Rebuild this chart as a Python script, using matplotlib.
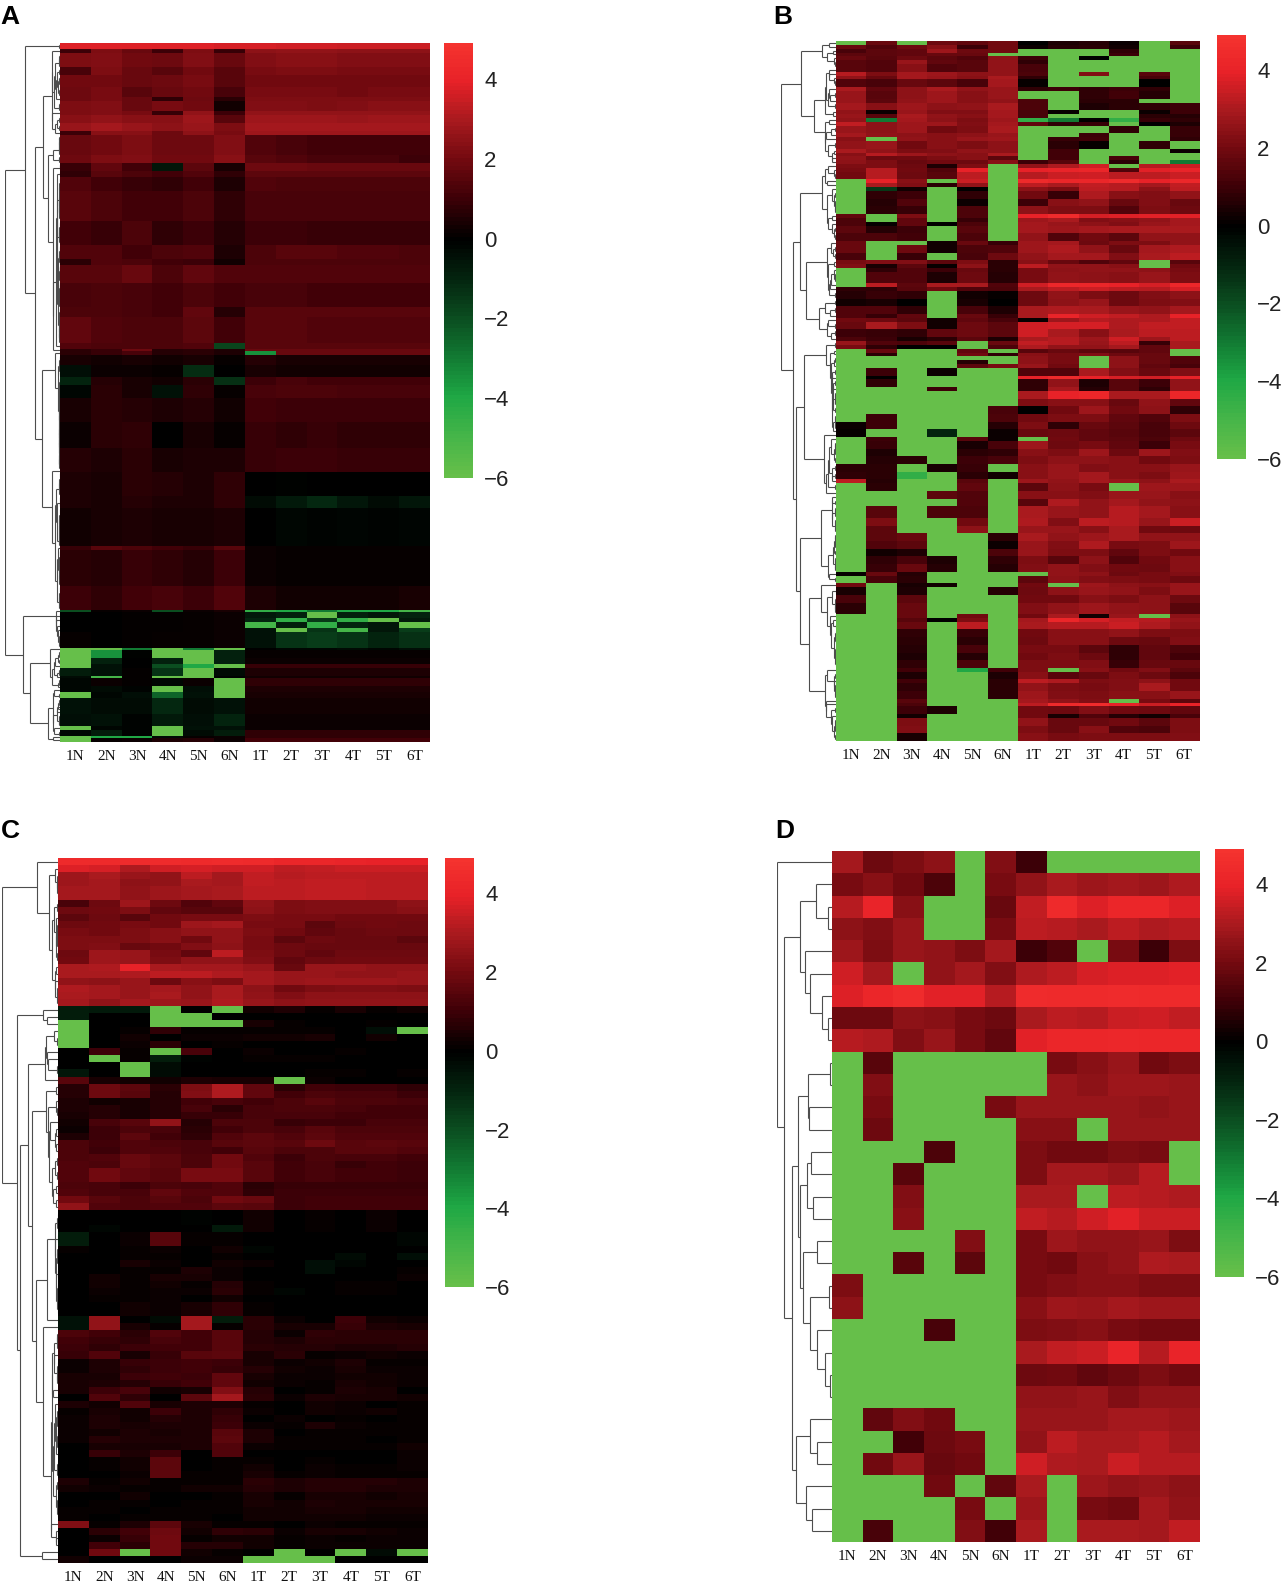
import numpy as np
import matplotlib
matplotlib.use("Agg")
import matplotlib.pyplot as plt
from matplotlib.collections import LineCollection
from matplotlib.colors import LinearSegmentedColormap

G = -6.0  # saturated green cells
columns = ["1N", "2N", "3N", "4N", "5N", "6N", "1T", "2T", "3T", "4T", "5T", "6T"]
bar_ticks = [4, 2, 0, -2, -4, -6]

# each strip: (how many rows look alike, values for the 12 samples)
a_strips = [
    (3, [3.8, 3.8, 3.8, 3.8, 3.8, 3.7, 3.7, 3.6, 3.6, 3.5, 3.5, 3.5]),
    (2, [1.0, 2.2, 1.8, 1.0, 2.2, 0.9, 2.5, 2.6, 2.6, 2.5, 2.5, 2.5]),
    (7, [2.2, 2.3, 2.0, 1.9, 2.3, 1.8, 2.3, 2.4, 2.4, 2.3, 2.3, 2.3]),
    (4, [1.2, 2.2, 1.8, 1.5, 2.0, 1.5, 2.1, 2.2, 2.2, 2.1, 2.1, 2.1]),
    (6, [2.0, 2.0, 1.8, 1.9, 2.1, 1.5, 2.0, 2.0, 2.0, 2.0, 2.0, 2.0]),
    (5, [1.9, 2.1, 1.5, 1.8, 2.0, 1.2, 2.1, 2.1, 2.1, 2.0, 2.1, 2.1]),
    (2, [1.9, 2.1, 1.8, 0.8, 1.9, 0.7, 2.2, 2.2, 2.2, 2.2, 2.2, 2.2]),
    (5, [2.2, 2.3, 1.8, 2.1, 2.0, 0.3, 2.3, 2.3, 2.2, 2.3, 2.4, 2.4]),
    (2, [2.2, 2.3, 2.1, 0.9, 2.6, 1.0, 2.6, 2.6, 2.6, 2.6, 2.6, 2.6]),
    (4, [2.4, 2.6, 2.4, 2.4, 2.8, 1.5, 2.8, 2.8, 2.8, 2.7, 2.8, 2.8]),
    (4, [2.7, 2.9, 2.7, 2.5, 2.7, 2.2, 2.9, 2.9, 2.9, 2.9, 2.9, 2.9]),
    (2, [1.0, 2.4, 2.4, 1.9, 2.5, 2.1, 2.8, 2.8, 2.8, 2.8, 2.8, 2.8]),
    (10, [1.8, 2.0, 2.2, 1.9, 1.9, 2.3, 1.4, 1.2, 1.1, 1.1, 1.1, 1.1]),
    (4, [1.9, 2.2, 2.3, 2.0, 2.0, 2.4, 1.5, 1.4, 1.2, 1.2, 1.2, 1.0]),
    (4, [0.9, 1.7, 1.1, -0.6, 1.6, 0.4, 1.9, 1.9, 1.8, 1.8, 1.8, 1.8]),
    (3, [0.8, 1.5, 1.3, 1.1, 1.4, 0.8, 1.6, 1.6, 1.6, 1.6, 1.6, 1.6]),
    (7, [1.4, 1.1, 0.9, 0.8, 1.1, 0.5, 1.4, 1.3, 1.3, 1.3, 1.3, 1.3]),
    (15, [1.5, 1.3, 1.1, 1.1, 1.3, 0.8, 1.2, 1.2, 1.2, 1.2, 1.2, 1.2]),
    (12, [1.1, 0.9, 1.3, 0.8, 1.0, 0.6, 1.0, 1.0, 0.9, 0.9, 0.9, 0.9]),
    (7, [1.4, 1.4, 1.1, 1.3, 1.4, 0.5, 1.3, 1.5, 1.5, 1.4, 1.4, 1.3]),
    (3, [0.7, 1.4, 1.3, 1.1, 1.0, 0.3, 1.3, 1.3, 1.3, 1.3, 1.3, 1.3]),
    (9, [1.5, 1.5, 1.8, 1.3, 1.7, 1.4, 1.4, 1.4, 1.4, 1.4, 1.4, 1.4]),
    (12, [1.2, 1.3, 1.2, 1.1, 1.3, 1.1, 1.2, 1.2, 1.1, 1.1, 1.1, 1.1]),
    (5, [1.3, 1.3, 1.2, 1.1, 1.7, 0.6, 1.5, 1.5, 1.5, 1.5, 1.5, 1.5]),
    (13, [1.7, 1.4, 1.3, 1.3, 1.6, 1.1, 1.5, 1.5, 1.4, 1.4, 1.4, 1.4]),
    (3, [1.4, 1.3, 1.3, 1.3, 1.4, -1.8, 1.5, 1.5, 1.5, 1.5, 1.5, 1.5]),
    (1, [0.7, 0.9, 1.9, 0.6, 0.7, 0.5, 1.8, 1.8, 1.8, 1.8, 1.8, 1.8]),
    (2, [0.7, 0.9, 1.2, 0.6, 0.7, 0.5, -3.5, 1.8, 1.8, 1.8, 1.8, 1.8]),
    (5, [0.4, 0.3, 0.4, 0.3, 0.4, 0.1, 0.6, 0.4, 0.4, 0.4, 0.4, 0.4]),
    (6, [-0.4, 0.2, 0.2, 0.1, -1.2, 0.0, 0.4, 0.3, 0.3, 0.3, 0.3, 0.3]),
    (4, [-1.0, 0.6, 0.4, 0.3, 0.7, -1.3, 1.0, 1.2, 1.1, 1.1, 1.1, 1.1]),
    (7, [-0.2, 0.7, 0.4, -0.5, 0.8, 0.1, 1.2, 1.3, 1.3, 1.2, 1.2, 1.2]),
    (12, [0.4, 0.7, 0.6, 0.5, 0.6, 0.3, 1.1, 1.0, 1.0, 1.0, 1.0, 1.0]),
    (13, [0.2, 0.7, 0.8, 0.0, 0.4, 0.1, 0.9, 0.8, 0.9, 0.8, 0.8, 0.8]),
    (12, [0.6, 0.5, 0.7, 0.4, 0.5, 0.5, 0.9, 1.0, 1.0, 0.9, 0.9, 0.9]),
    (12, [0.5, 0.4, 0.7, 0.6, 0.5, 0.8, 0.0, -0.05, 0.0, 0.0, 0.0, 0.0]),
    (6, [0.5, 0.4, 0.6, 0.5, 0.5, 0.8, -0.3, -0.7, -1.1, -0.6, -0.3, -0.6]),
    (19, [0.3, 0.4, 0.5, 0.4, 0.4, 0.5, 0.0, -0.2, -0.1, -0.15, -0.1, -0.15]),
    (2, [0.9, 1.5, 1.3, 1.1, 0.9, 1.5, 0.2, 0.1, 0.1, 0.1, 0.1, 0.1]),
    (18, [0.7, 0.6, 0.9, 0.8, 0.6, 1.0, 0.2, 0.1, 0.1, 0.1, 0.1, 0.1]),
    (12, [1.0, 0.8, 1.1, 1.2, 1.0, 1.4, 0.5, 0.3, 0.3, 0.3, 0.3, 0.4]),
    (1, [-2.0, 0.1, 0.2, -2.0, 0.2, 0.4, -4.5, -4.0, -3.0, -4.0, -4.0, -5.0]),
    (3, [0.0, 0.0, 0.05, 0.05, 0.1, 0.2, -0.7, -0.9, G, -0.9, -0.6, -1.0]),
    (2, [0.0, 0.0, 0.05, 0.05, 0.1, 0.2, -1.0, -4.5, -1.5, -4.5, G, -0.7]),
    (3, [0.0, 0.0, 0.05, 0.05, 0.1, 0.2, -5.0, -0.8, -4.5, -1.0, -0.6, G]),
    (2, [0.0, 0.0, 0.05, 0.05, 0.1, 0.2, -0.5, G, -1.4, -5.0, -0.6, -1.6]),
    (8, [0.1, 0.0, 0.05, 0.1, 0.1, 0.2, -0.5, -1.4, -1.6, -1.4, -1.0, -1.3]),
    (1, [G, G, -3.0, G, -3.0, G, 0.0, -0.2, -0.2, -0.3, -0.2, -0.4]),
    (4, [G, -3.5, -0.05, G, G, -0.9, 0.1, 0.1, 0.1, 0.1, 0.1, 0.1]),
    (3, [G, -0.9, 0.0, -0.9, G, -0.9, 0.2, 0.2, 0.2, 0.2, 0.2, 0.2]),
    (2, [G, -0.5, 0.0, -2.0, -4.0, G, 0.9, 0.9, 0.9, 0.9, 0.9, 0.9]),
    (4, [-0.8, -0.5, 0.05, -1.4, G, -0.3, 0.5, 0.5, 0.5, 0.5, 0.5, 0.5]),
    (1, [-0.3, -5.0, 0.05, G, G, -0.1, 0.3, 0.3, 0.3, 0.3, 0.3, 0.3]),
    (4, [-0.2, 0.2, 0.05, -0.2, 0.2, G, 0.8, 0.8, 0.8, 0.8, 0.8, 0.8]),
    (3, [-0.2, -0.3, -0.1, G, -0.4, G, 0.5, 0.5, 0.5, 0.5, 0.5, 0.5]),
    (3, [G, -0.2, -0.4, -2.5, -0.5, G, 0.4, 0.4, 0.4, 0.4, 0.4, 0.4]),
    (8, [-0.5, -0.3, -0.3, -1.1, -0.3, -0.5, 0.3, 0.3, 0.3, 0.3, 0.3, 0.3]),
    (6, [-0.4, -0.5, -0.1, -0.7, -0.4, -1.0, 0.2, 0.2, 0.2, 0.2, 0.2, 0.2]),
    (2, [G, -0.2, -0.1, G, -0.5, -0.5, 0.2, 0.2, 0.2, 0.2, 0.2, 0.2]),
    (3, [-0.2, -0.8, -0.1, G, -0.3, -0.8, 0.8, 0.8, 0.8, 0.8, 0.8, 0.8]),
    (1, [G, -4.0, -4.0, -0.3, 0.1, 0.2, 0.8, 0.8, 0.8, 0.8, 0.8, 0.8]),
    (2, [G, 0.1, 0.2, 0.5, 0.6, 0.2, 1.1, 1.1, 1.1, 1.1, 1.1, 1.1]),
]

b_strips = [
    (1, [G, 1.8, G, 1.9, 1.7, 2.0, 0.0, 0.5, 0.6, 0.2, G, 1.5]),
    (1, [1.8, 1.4, 1.9, 2.4, 1.0, 2.0, 0.2, 0.6, 0.7, 0.3, G, 1.0]),
    (1, [1.2, 1.6, 1.7, 2.8, 1.9, 2.0, G, G, G, 0.8, G, G]),
    (1, [1.6, 1.6, 1.7, 1.8, 1.8, G, G, G, G, 1.0, G, G]),
    (1, [1.8, 1.5, 1.9, 1.6, 1.4, 2.5, 1.0, G, 0.0, G, G, G]),
    (1, [1.5, 1.4, 2.7, 1.7, 1.5, 2.6, 0.8, G, G, G, G, G]),
    (2, [1.5, 1.4, 2.4, 1.4, 1.5, 2.6, 1.2, G, G, G, G, G]),
    (1, [3.2, 2.2, 2.9, 2.8, 2.5, 2.6, 1.3, G, 2.3, G, 1.5, G]),
    (1, [2.6, 1.8, 2.9, 2.7, 2.4, 3.0, 0.8, G, G, G, 1.2, G]),
    (2, [1.4, 1.2, 1.8, 1.6, 1.2, 2.9, 0.1, G, G, G, 0.0, G]),
    (1, [3.0, 1.7, 2.5, 3.0, 2.6, 2.7, 0.8, 1.0, 0.8, 1.0, 0.8, G]),
    (2, [2.7, 1.5, 2.5, 2.8, 2.4, 2.7, G, G, 0.8, 1.1, 0.6, G]),
    (1, [2.7, 1.6, 2.6, 2.8, 2.4, 2.6, 1.3, G, 0.7, 0.7, G, G]),
    (2, [2.9, 2.4, 2.8, 2.5, 2.6, 3.0, 1.3, G, 0.5, 0.7, 0.8, 1.0]),
    (1, [2.6, 0.2, 2.7, 2.3, 2.3, 2.9, 1.2, 0.1, G, G, 0.2, 1.0]),
    (1, [2.7, 1.5, 3.0, 2.6, 2.4, 2.9, 1.2, G, G, G, 0.7, 0.6]),
    (1, [2.6, -3.0, 2.9, 2.5, 2.2, 2.8, -4.5, -3.0, 0.0, -4.5, 0.9, 0.8]),
    (1, [3.4, 2.5, 2.8, 2.8, 2.3, 2.9, 1.7, 0.8, 0.9, G, 0.0, 0.5]),
    (2, [2.7, 2.5, 2.8, 2.0, 2.2, 3.0, G, G, G, 0.8, G, 0.9]),
    (1, [2.9, 2.6, 2.5, 2.4, 2.5, 2.7, G, G, 1.0, G, G, 0.9]),
    (1, [2.4, G, 2.6, 2.4, 2.7, 2.8, G, 0.9, 1.1, G, G, 0.8]),
    (2, [2.6, 2.7, 2.0, 2.4, 2.2, 2.5, G, 0.7, 0.1, G, 0.8, G]),
    (1, [3.0, 2.6, 2.2, 2.3, 2.6, 2.5, G, 1.1, G, G, G, 0.2]),
    (1, [2.4, 3.2, 2.8, 2.5, 2.4, 3.0, G, 1.1, G, G, G, G]),
    (1, [2.6, 1.9, 2.0, 2.2, 2.4, 1.6, G, 1.1, G, 1.2, G, G]),
    (1, [2.5, 2.2, 1.8, 2.0, 1.9, 2.4, 1.0, 1.5, G, 0.7, G, -3.0]),
    (1, [2.2, 2.2, 1.9, 0.5, 2.2, G, 2.6, 3.1, 3.6, G, 3.2, 3.5]),
    (1, [2.1, 3.2, 2.0, 1.4, 4.0, G, 4.0, 4.1, 4.2, 1.4, 3.9, 4.1]),
    (2, [2.0, 3.2, 1.9, 1.5, 3.3, G, 3.2, 3.5, 3.6, 3.3, 3.3, 3.5]),
    (1, [G, 4.0, 2.4, G, 3.5, G, 4.4, 4.2, 4.2, 4.5, 4.0, 4.3]),
    (1, [G, 3.0, 2.3, 0.7, 2.6, G, 3.3, 3.0, 3.4, 3.2, 2.9, 3.4]),
    (1, [G, -1.5, 0.3, G, 0.0, G, 2.5, 2.2, 3.3, 3.2, 2.5, 3.3]),
    (2, [G, 0.8, 1.0, G, 0.8, G, 2.0, 0.9, 3.1, 2.4, 2.3, 2.6]),
    (2, [G, 0.6, 1.4, G, 0.2, G, 1.0, 2.4, 2.6, 1.8, 2.3, 1.8]),
    (2, [G, 0.7, 0.9, G, 1.3, G, 2.5, 2.2, 2.2, 1.4, 2.2, 1.9]),
    (1, [1.7, G, 2.2, G, 1.3, G, 4.0, 4.5, 3.7, 3.8, 3.9, 3.9]),
    (1, [1.3, G, 1.7, G, 0.9, G, 2.8, 3.0, 2.3, 2.4, 2.6, 2.9]),
    (1, [1.3, 0.1, 1.7, 0.0, 1.3, G, 2.9, 2.7, 2.5, 2.3, 2.7, 2.9]),
    (2, [1.6, 0.6, 1.0, G, 1.5, G, 2.9, 2.8, 2.9, 3.0, 3.0, 3.0]),
    (2, [1.3, 1.3, 1.1, G, 1.3, G, 2.6, 1.4, 2.0, 1.6, 2.6, 2.6]),
    (1, [1.8, G, G, 0.3, 1.8, 0.9, 2.8, 2.9, 1.9, 2.2, 2.2, 2.6]),
    (2, [1.8, G, 1.9, 0.3, 1.3, 1.4, 2.8, 3.1, 2.6, 1.8, 2.9, 3.1]),
    (2, [1.2, G, 0.9, G, 1.2, 1.9, 2.6, 2.9, 2.9, 2.3, 3.0, 3.3]),
    (1, [2.1, 2.3, 2.3, 1.6, 2.2, 0.7, 2.4, 1.8, 1.4, 1.7, G, 1.5]),
    (1, [2.3, 0.4, 1.6, 0.1, 2.5, 0.7, 3.3, 2.6, 2.6, 2.4, G, 2.0]),
    (1, [G, 0.8, 1.4, 1.0, 1.8, 0.7, 2.1, 2.5, 2.6, 2.6, 2.5, 2.1]),
    (3, [G, 1.4, 1.4, 0.5, 1.9, 0.6, 2.1, 2.6, 2.5, 2.4, 2.7, 2.2]),
    (1, [G, 3.3, 1.6, 3.0, 3.0, 1.4, 3.6, 4.3, 4.2, 4.0, 3.7, 4.3]),
    (1, [0.8, 0.8, 1.5, 2.0, 1.4, 1.3, 3.0, 3.3, 3.5, 3.3, 3.2, 3.7]),
    (2, [0.6, 0.9, 0.8, G, 0.3, 0.1, 1.9, 2.6, 2.2, 1.9, 2.3, 2.5]),
    (2, [0.3, 0.4, 0.0, G, 0.4, 0.0, 1.9, 2.5, 2.7, 1.9, 2.2, 2.3]),
    (2, [1.4, 1.4, 0.8, G, 1.2, 0.5, 3.0, 3.1, 3.0, 2.7, 2.6, 2.9]),
    (1, [1.4, 0.9, 1.7, G, 1.8, 0.9, 3.0, 4.1, 3.6, 3.4, 3.1, 4.0]),
    (1, [2.0, 1.9, 1.6, 0.3, 1.7, 1.2, 0.1, 2.8, 3.2, 3.1, 3.1, 3.4]),
    (2, [1.8, 3.0, 2.2, 0.3, 1.9, 1.6, 3.6, 3.7, 3.7, 3.1, 3.4, 3.4]),
    (2, [1.0, 0.9, 0.8, 1.7, 1.9, 1.6, 3.6, 3.0, 2.4, 3.0, 3.3, 3.3]),
    (1, [1.3, 1.0, 0.4, 0.7, 1.6, 0.5, 3.0, 3.2, 2.8, 3.6, 2.8, 3.3]),
    (1, [2.7, 1.4, 1.3, 1.5, G, 1.8, 3.4, 3.2, 2.7, 3.3, 0.9, 3.0]),
    (1, [2.1, 0.8, 0.0, 0.0, G, 1.3, 3.1, 2.6, 2.6, 2.9, 1.7, 3.0]),
    (1, [G, 1.8, G, G, 1.7, G, 1.5, 1.8, 1.6, 1.5, 1.7, G]),
    (1, [G, 0.7, G, G, 2.0, 0.8, 2.4, 2.1, 2.3, 1.9, 1.8, G]),
    (1, [G, G, G, G, G, G, 2.5, 2.1, G, 2.5, 1.8, 1.4]),
    (1, [G, G, G, G, 0.6, G, 2.5, 2.1, G, 2.5, 1.8, 1.4]),
    (1, [G, G, G, G, 1.6, 2.1, 2.7, 2.0, G, 2.5, 1.7, 1.2]),
    (2, [G, 1.0, G, 0.2, G, G, 1.4, 1.4, 3.0, 2.3, 1.8, 2.3]),
    (1, [G, 0.0, G, G, G, G, 4.0, 4.4, 4.0, 3.7, 3.6, 4.0]),
    (2, [G, 0.8, G, G, G, G, 0.8, 2.6, 0.5, 1.5, 1.0, 2.6]),
    (1, [G, G, G, 1.0, G, G, 0.8, 2.9, 0.6, 1.5, 0.8, 2.6]),
    (2, [G, G, G, G, G, G, 3.0, 4.0, 4.2, 3.0, 3.0, 4.2]),
    (2, [G, G, G, G, G, G, 2.2, 2.4, 2.4, 1.8, 2.6, 1.7]),
    (2, [G, G, G, G, G, 1.2, 0.0, 2.0, 2.8, 2.0, 2.5, 0.8]),
    (2, [G, 1.0, G, G, G, 1.3, 2.0, 2.2, 2.2, 1.7, 1.4, 2.2]),
    (2, [0.2, 1.0, G, G, G, 0.6, 2.2, 0.8, 1.8, 1.6, 1.2, 1.9]),
    (2, [0.1, G, G, -1.0, G, 0.2, 1.8, 1.9, 1.7, 1.5, 1.2, 1.6]),
    (1, [G, 1.0, G, G, 1.5, 0.2, G, 2.0, 1.7, 1.6, 1.3, 1.9]),
    (2, [G, 0.9, G, G, 0.4, 1.2, 2.8, 1.9, 2.1, 1.7, 1.0, 2.1]),
    (2, [G, 0.5, G, G, 0.7, 0.8, 2.4, 2.2, 2.8, 1.9, 2.8, 2.3]),
    (2, [G, 0.6, 0.7, G, 1.0, 1.2, 2.2, 2.5, 2.5, 2.4, 2.0, 2.2]),
    (2, [0.7, 0.7, G, 0.4, 0.9, G, 2.4, 2.7, 2.3, 2.4, 2.4, 2.7]),
    (2, [0.8, 0.7, -4.5, G, 0.7, 0.3, 2.4, 2.7, 2.9, 2.4, 2.2, 2.8]),
    (1, [3.3, 0.6, G, G, 1.5, G, 2.8, 2.6, 2.9, 2.7, 2.5, 3.0]),
    (2, [G, 0.7, G, G, 1.7, G, 1.6, 2.5, 2.1, G, 2.8, 2.8]),
    (2, [G, G, G, 1.6, 1.4, G, 2.4, 2.4, 2.3, 2.7, 2.7, 2.4]),
    (2, [G, G, G, G, 1.4, G, 1.5, 3.1, 2.6, 2.9, 2.6, 2.5]),
    (3, [G, 1.5, G, 1.3, 1.3, G, 3.0, 2.7, 2.6, 3.2, 2.9, 2.4]),
    (2, [G, 2.2, G, G, 2.0, G, 3.1, 2.3, 3.3, 3.2, 2.7, 3.5]),
    (2, [G, 1.6, G, G, 2.5, G, 2.7, 2.7, 2.4, 3.0, 2.0, 1.9]),
    (2, [G, 1.6, 1.8, G, G, 0.7, 3.0, 2.6, 2.8, 3.0, 2.6, 2.6]),
    (2, [G, 1.4, 1.6, G, G, 0.2, 2.7, 2.3, 3.1, 2.1, 2.2, 2.8]),
    (2, [G, 0.3, 0.5, G, G, 1.3, 2.7, 2.2, 2.2, 1.7, 2.2, 2.0]),
    (2, [G, 0.8, 1.2, 0.5, G, 0.8, 2.2, 1.5, 2.5, 1.4, 2.0, 2.4]),
    (2, [G, 0.9, 1.8, 0.6, G, 0.6, 2.3, 2.6, 2.3, 2.0, 1.9, 2.4]),
    (1, [0.1, 1.8, 0.6, G, G, G, G, 2.6, 2.5, 1.9, 2.1, 2.3]),
    (2, [G, 1.2, 0.7, G, G, G, 1.6, 2.5, 2.3, 2.2, 2.1, 1.9]),
    (1, [2.0, G, 0.4, 0.3, G, G, 2.0, G, 2.8, 2.5, 2.4, 2.7]),
    (2, [0.4, G, 0.5, G, G, 0.6, 1.9, 2.5, 2.7, 2.6, 2.2, 2.7]),
    (2, [1.2, G, 1.6, G, G, G, 2.0, 2.0, 2.4, 2.2, 2.5, 1.9]),
    (3, [0.7, G, 1.8, G, G, G, 2.3, 2.6, 2.8, 2.6, 2.5, 1.5]),
    (1, [G, G, 1.8, G, 2.0, G, 2.0, 3.0, 0.3, 2.7, G, 2.5]),
    (1, [G, G, 1.5, 0.0, 2.2, G, 2.9, 4.2, 3.7, 3.4, 3.2, 2.7]),
    (2, [G, G, 1.8, G, 3.3, G, 3.0, 3.2, 3.2, 3.5, 3.1, 2.6]),
    (2, [G, G, 0.8, G, 0.9, G, 2.0, 2.4, 2.4, 2.6, 2.2, 2.2]),
    (2, [G, G, 0.7, G, 0.7, G, 1.9, 2.4, 2.4, 1.9, 1.8, 2.3]),
    (2, [G, G, 0.6, G, 1.2, G, 2.1, 2.1, 1.6, 0.8, 1.7, 1.3]),
    (2, [G, G, 0.5, G, 0.6, G, 2.0, 2.2, 1.9, 0.8, 1.7, 1.1]),
    (2, [G, G, 0.8, G, 1.3, G, 2.2, 2.2, 2.3, 0.9, 1.8, 1.8]),
    (1, [G, G, 1.1, G, -4.0, 1.1, 2.2, G, 2.4, 2.0, 2.3, 1.6]),
    (2, [G, G, 0.5, G, G, 0.5, 2.4, 1.5, 1.8, 2.2, 1.9, 1.3]),
    (1, [G, G, 1.1, G, G, 0.7, 3.3, 3.1, 2.2, 2.3, 2.5, 2.0]),
    (2, [G, G, 0.8, G, G, 0.7, 2.6, 2.2, 2.1, 2.3, 3.0, 2.0]),
    (2, [G, G, 1.0, G, G, 0.7, 2.8, 2.3, 2.2, 2.4, 2.4, 2.7]),
    (1, [G, G, 1.5, G, G, G, 2.9, 2.6, 2.3, G, 2.1, 1.6]),
    (1, [G, G, 1.3, G, G, G, 3.3, 4.4, 4.5, 4.0, 3.5, 4.0]),
    (2, [G, G, 1.0, 0.5, G, G, 2.0, 1.9, 2.3, 2.0, 1.9, 1.7]),
    (1, [G, G, 0.3, G, G, G, 2.0, 0.4, 1.4, 0.6, 0.3, 1.2]),
    (2, [G, G, 2.2, G, G, G, 2.6, 1.8, 1.8, 2.0, 1.6, 2.2]),
    (2, [G, G, 2.3, G, G, G, 2.2, 1.8, 2.4, 1.4, 1.3, 2.2]),
    (2, [G, G, 0.4, G, G, G, 2.4, 2.1, 2.2, 2.2, 2.2, 2.3]),
]

c_strips = [
    (1, [4.4, 4.4, 4.5, 4.5, 4.4, 4.5, 4.4, 4.2, 4.2, 4.1, 4.0, 4.0]),
    (1, [3.8, 3.7, 3.1, 3.6, 3.7, 3.6, 3.6, 3.3, 3.4, 3.5, 3.5, 3.5]),
    (1, [2.8, 3.0, 2.7, 2.6, 3.3, 2.9, 3.4, 3.2, 3.3, 3.3, 3.3, 3.3]),
    (1, [2.8, 2.9, 2.5, 2.6, 3.0, 2.9, 3.4, 3.3, 3.4, 3.4, 3.3, 3.3]),
    (2, [2.9, 2.9, 2.6, 2.8, 2.9, 3.0, 3.3, 3.3, 3.4, 3.4, 3.3, 3.3]),
    (1, [1.2, 1.9, 2.8, 1.9, 1.4, 1.7, 2.6, 2.2, 2.3, 2.3, 2.3, 2.5]),
    (1, [1.9, 2.0, 2.2, 1.7, 1.5, 1.5, 2.5, 2.2, 2.3, 2.3, 2.3, 2.4]),
    (1, [1.6, 1.9, 1.5, 2.0, 2.1, 2.1, 2.2, 2.1, 2.1, 2.0, 2.0, 2.0]),
    (1, [1.9, 2.0, 2.1, 2.0, 2.8, 2.9, 2.1, 2.1, 1.6, 1.9, 2.0, 1.9]),
    (1, [2.1, 2.0, 2.2, 2.4, 2.6, 2.6, 2.2, 2.0, 1.7, 1.8, 1.9, 1.9]),
    (1, [2.2, 2.2, 2.2, 2.4, 2.0, 2.6, 2.1, 1.6, 1.9, 1.8, 1.8, 1.6]),
    (1, [2.2, 2.3, 1.8, 2.0, 2.3, 2.5, 2.1, 1.9, 1.8, 1.8, 1.8, 1.8]),
    (1, [1.9, 2.8, 2.7, 2.1, 1.7, 3.3, 2.2, 1.9, 1.7, 1.9, 1.9, 1.9]),
    (1, [2.0, 2.8, 2.7, 2.2, 2.6, 2.6, 2.3, 1.7, 1.9, 2.0, 2.0, 2.0]),
    (1, [3.0, 3.1, 4.0, 3.0, 2.9, 2.9, 2.7, 1.8, 2.7, 2.7, 2.6, 2.6]),
    (1, [3.0, 3.0, 3.1, 3.3, 3.3, 3.1, 2.9, 2.7, 2.7, 2.6, 2.6, 2.7]),
    (1, [2.6, 2.5, 2.7, 1.9, 2.4, 2.2, 2.9, 2.7, 2.8, 2.8, 2.8, 2.7]),
    (1, [3.1, 2.9, 2.7, 2.9, 2.6, 3.0, 2.5, 2.0, 2.2, 2.3, 2.3, 2.2]),
    (1, [3.0, 2.9, 2.7, 3.0, 2.6, 3.0, 2.6, 2.3, 2.5, 2.5, 2.5, 2.5]),
    (1, [2.9, 2.6, 2.9, 2.8, 2.7, 3.1, 2.7, 2.5, 2.6, 2.6, 2.6, 2.6]),
    (1, [-0.8, -0.7, -0.7, G, 0.0, G, 0.3, 0.5, 0.1, 0.4, 0.1, 0.3]),
    (1, [-0.8, 0.0, 0.0, G, G, 0.0, 0.0, 0.0, 0.0, 0.0, 0.0, 0.0]),
    (1, [G, 0.0, 0.0, G, G, G, 0.4, 0.1, 0.0, 0.0, 0.05, 0.0]),
    (1, [G, 0.0, 0.1, 0.8, 0.1, 0.1, 0.1, 0.1, 0.1, 0.0, -0.4, G]),
    (1, [G, 0.0, 0.3, 0.0, 0.2, 0.2, 0.3, 0.3, 0.4, 0.0, 0.3, 0.0]),
    (1, [G, 0.0, 0.2, 0.7, 0.0, 0.1, 0.0, 0.0, 0.0, 0.0, 0.0, 0.0]),
    (1, [0.0, 1.0, 0.1, G, 1.2, 0.0, 0.2, 0.0, 0.0, 0.1, 0.0, 0.0]),
    (1, [0.0, G, 0.1, -0.8, -0.1, 0.0, 0.1, 0.1, 0.1, 0.0, 0.0, 0.0]),
    (1, [0.0, 0.0, G, -0.3, 0.0, 0.0, 0.0, 0.0, 0.0, 0.0, 0.0, 0.0]),
    (1, [-0.6, 0.0, G, -0.3, 0.0, 0.0, 0.0, 0.0, 0.1, 0.1, 0.0, 0.1]),
    (1, [1.5, 0.4, 0.3, 0.3, 0.5, 0.4, 0.4, G, 0.2, 0.0, 0.0, 0.0]),
    (1, [0.6, 1.9, 1.6, 0.7, 2.2, 3.1, 1.7, 0.7, 1.1, 1.0, 1.0, 0.8]),
    (1, [0.6, 1.9, 1.5, 0.6, 2.3, 3.1, 1.7, 1.1, 1.3, 1.2, 1.2, 1.0]),
    (1, [0.5, 0.3, 0.4, 0.6, 1.1, 1.2, 1.1, 1.3, 1.5, 1.3, 1.3, 1.2]),
    (1, [0.5, 0.6, 0.4, 0.6, 1.2, 0.7, 1.2, 1.3, 1.3, 1.2, 1.1, 1.1]),
    (1, [0.4, 0.6, 0.4, 0.6, 0.9, 0.9, 1.2, 1.2, 1.2, 1.1, 1.1, 1.1]),
    (1, [0.3, 1.2, 1.5, 2.6, 0.6, 1.3, 1.3, 0.9, 1.0, 1.0, 1.2, 1.2]),
    (1, [0.2, 1.0, 1.3, 1.2, 0.7, 1.1, 1.3, 1.2, 1.5, 1.3, 1.3, 1.3]),
    (1, [0.5, 1.0, 1.6, 1.1, 0.8, 1.4, 1.6, 1.4, 1.6, 1.4, 1.4, 1.4]),
    (1, [1.3, 1.1, 1.4, 1.3, 1.2, 1.5, 1.6, 1.5, 1.9, 1.5, 1.6, 1.5]),
    (1, [1.3, 1.0, 1.4, 1.4, 1.2, 1.1, 1.5, 1.3, 1.3, 1.5, 1.5, 1.4]),
    (1, [1.3, 1.4, 1.8, 1.6, 1.3, 2.0, 1.4, 1.0, 1.3, 1.2, 1.2, 1.1]),
    (1, [1.4, 1.3, 1.8, 1.6, 1.3, 2.0, 1.5, 1.1, 1.2, 0.9, 1.1, 1.0]),
    (2, [1.4, 2.0, 1.7, 1.5, 2.1, 2.1, 1.5, 1.1, 1.2, 1.1, 1.1, 1.0]),
    (1, [1.3, 1.2, 1.0, 1.3, 1.2, 1.4, 0.7, 0.9, 0.9, 0.9, 0.9, 0.9]),
    (1, [1.4, 1.2, 1.2, 1.7, 1.4, 1.4, 0.8, 1.0, 1.0, 1.0, 1.0, 1.0]),
    (1, [2.0, 1.5, 1.3, 1.5, 1.3, 2.0, 1.8, 1.0, 1.1, 1.1, 1.1, 1.1]),
    (1, [2.6, 1.4, 1.3, 1.4, 1.4, 1.6, 1.5, 1.0, 1.1, 1.1, 1.1, 1.1]),
    (2, [0.0, 0.0, 0.0, 0.0, -0.1, 0.0, 0.3, 0.0, 0.1, 0.0, 0.2, 0.0]),
    (1, [0.0, -0.2, 0.0, 0.0, 0.0, -0.7, 0.3, 0.0, 0.1, 0.0, 0.2, 0.0]),
    (2, [-0.8, 0.0, 0.2, 1.5, 0.1, 0.1, 0.0, 0.0, 0.0, 0.0, 0.0, -0.2]),
    (1, [0.1, 0.0, 0.1, 0.2, 0.0, 0.3, -0.2, 0.0, 0.0, 0.0, 0.0, 0.0]),
    (1, [0.0, 0.0, 0.1, 0.1, 0.0, 0.1, 0.0, 0.0, 0.0, -0.3, 0.0, -0.4]),
    (1, [0.0, 0.0, 0.4, 0.2, 0.0, 0.3, 0.2, 0.0, -0.4, -0.2, 0.0, 0.0]),
    (1, [0.0, 0.0, 0.1, 0.1, 0.5, 0.2, 0.0, 0.0, -0.4, 0.0, 0.0, 0.1]),
    (1, [0.0, 0.3, 0.1, 0.4, 0.4, 0.2, 0.0, 0.0, 0.0, 0.0, 0.0, 0.2]),
    (1, [0.0, 0.3, 0.1, 0.3, 0.1, 0.6, 0.1, 0.0, 0.0, 0.1, 0.1, 0.0]),
    (1, [0.0, 0.2, 0.1, 0.2, 0.2, 0.7, 0.1, -0.2, 0.0, 0.1, 0.1, 0.0]),
    (1, [0.0, 0.1, 0.1, 0.2, 0.0, 0.3, 0.0, 0.0, 0.0, 0.0, 0.0, 0.0]),
    (2, [0.0, 0.0, 0.3, 0.2, 0.4, 0.8, 0.1, 0.0, 0.0, 0.0, 0.0, 0.0]),
    (1, [-0.5, 2.6, 0.0, -0.3, 2.9, -0.8, 0.7, 0.2, 0.0, 1.0, 0.3, 0.2]),
    (1, [-0.5, 2.6, 0.4, 0.1, 2.9, 0.1, 0.7, 0.4, 0.4, 0.9, 0.5, 0.4]),
    (1, [1.3, 1.1, 0.7, 1.4, 1.1, 1.5, 0.6, 0.2, 0.8, 0.7, 0.7, 0.7]),
    (1, [1.1, 0.9, 0.8, 1.2, 1.1, 1.5, 0.6, 0.5, 0.7, 0.7, 0.7, 0.7]),
    (1, [1.0, 0.8, 1.0, 1.1, 1.1, 1.5, 0.7, 0.6, 0.6, 0.5, 0.5, 0.6]),
    (1, [0.9, 1.4, 0.4, 0.9, 1.5, 1.6, 0.4, 0.7, 0.1, 0.2, 0.3, 0.2]),
    (1, [0.2, 0.5, 0.9, 1.0, 1.1, 1.0, 0.4, 0.2, 0.3, 0.5, 0.1, 0.1]),
    (1, [0.2, 0.5, 0.8, 1.0, 1.1, 0.9, 0.6, 0.3, 0.2, 0.4, 0.2, 0.2]),
    (1, [0.4, 0.4, 1.0, 1.1, 1.0, 1.7, 0.4, 0.2, 0.2, 0.3, 0.3, 0.2]),
    (1, [0.4, 0.5, 0.6, 0.9, 1.1, 1.7, 0.3, 0.2, 0.1, 0.4, 0.3, 0.2]),
    (1, [0.4, 1.0, 1.2, 0.3, 0.4, 2.3, 0.6, 0.0, 0.1, 0.5, 0.4, 0.0]),
    (1, [0.0, 1.4, 0.8, 0.0, 1.6, 2.9, 0.7, 0.2, 0.5, 0.4, 0.4, 0.3]),
    (1, [0.5, 0.3, 1.4, 0.4, 0.5, 0.5, 0.1, 0.0, 0.3, 0.2, 0.0, 0.1]),
    (1, [0.1, 0.4, 0.3, 1.0, 0.5, 0.8, 0.2, 0.0, 0.3, 0.2, 0.3, 0.1]),
    (1, [0.2, 0.5, 0.3, 0.6, 0.5, 0.9, 0.0, 0.2, 0.0, 0.1, 0.0, 0.1]),
    (1, [0.2, 0.5, 0.4, 0.5, 0.5, 1.0, 0.2, 0.1, 0.5, 0.2, 0.1, 0.1]),
    (1, [0.2, 0.3, 0.5, 0.4, 0.5, 1.5, 0.5, 0.0, 0.1, 0.1, 0.1, 0.1]),
    (1, [0.2, 0.6, 0.5, 0.5, 0.5, 1.6, 0.5, 0.1, 0.1, 0.1, 0.0, 0.1]),
    (1, [0.0, 0.4, 0.4, 0.4, 0.5, 1.4, 0.2, 0.1, 0.1, 0.1, 0.1, 0.3]),
    (1, [0.0, 0.9, 0.5, 1.0, 0.0, 1.4, 0.0, 0.0, 0.0, 0.0, 0.0, 0.2]),
    (1, [0.0, 0.1, 0.3, 1.6, 0.0, 0.1, 0.1, 0.0, 0.1, 0.0, 0.0, 0.2]),
    (1, [0.0, 0.1, 0.3, 1.6, 0.0, 0.1, 0.3, 0.0, 0.2, 0.1, 0.1, 0.2]),
    (1, [0.0, 0.0, 0.2, 1.6, 0.1, 0.1, 0.4, 0.1, 0.2, 0.1, 0.1, 0.1]),
    (1, [0.5, 0.1, 0.3, 0.1, 0.1, 0.1, 0.7, 0.5, 0.6, 0.6, 0.6, 0.5]),
    (1, [0.3, 0.2, 0.1, 0.1, 0.3, 0.3, 0.6, 0.5, 0.6, 0.6, 0.5, 0.5]),
    (1, [0.0, 0.0, 0.3, 0.0, 0.0, 0.1, 0.4, 0.1, 0.4, 0.4, 0.3, 0.4]),
    (1, [0.0, 0.1, 0.1, 0.0, 0.1, 0.1, 0.4, 0.3, 0.5, 0.4, 0.4, 0.4]),
    (1, [0.1, 0.1, 0.0, 0.1, 0.1, 0.1, 0.3, 0.3, 0.4, 0.4, 0.3, 0.3]),
    (1, [0.1, 0.0, 0.1, 0.1, 0.1, 0.0, 0.3, 0.3, 0.3, 0.3, 0.2, 0.2]),
    (1, [2.3, 0.1, 0.5, 1.6, 0.4, 0.1, 0.1, 0.0, 0.2, 0.1, 0.1, 0.1]),
    (1, [0.0, 0.7, 1.1, 1.9, 0.3, 0.8, 0.7, 0.2, 0.4, 0.4, 0.3, 0.2]),
    (1, [0.0, 0.2, 0.9, 2.0, 0.1, 0.3, 0.3, 0.1, 0.2, 0.1, 0.2, 0.2]),
    (1, [0.0, 1.1, 0.7, 2.0, 0.6, 0.6, 0.3, 0.1, 0.2, 0.2, 0.2, 0.2]),
    (1, [0.0, 2.0, G, 2.0, 0.3, 0.1, 0.0, G, 0.0, G, -0.3, G]),
    (1, [0.3, 0.0, 0.0, 0.0, 0.2, 0.2, G, G, G, 0.0, 0.0, 0.0]),
]

d_strips = [
    (1, [2.9, 1.9, 2.2, 2.5, G, 2.3, 1.0, G, G, G, G, G]),
    (1, [2.1, 2.4, 2.0, 1.3, G, 2.1, 2.6, 3.0, 2.8, 2.9, 2.8, 3.1]),
    (1, [3.2, 4.1, 2.4, G, G, 1.8, 3.4, 4.4, 3.8, 4.2, 4.2, 3.8]),
    (1, [2.5, 2.3, 2.7, G, G, 2.1, 3.3, 3.2, 3.0, 3.3, 3.1, 3.2]),
    (1, [2.8, 2.2, 2.7, 2.6, 2.2, 2.9, 1.0, 1.4, G, 2.1, 1.0, 2.2]),
    (1, [3.6, 2.9, G, 2.6, 2.9, 2.3, 3.1, 3.3, 3.7, 3.8, 3.8, 3.9]),
    (1, [3.8, 4.2, 4.5, 3.9, 3.9, 3.2, 4.5, 4.4, 4.4, 4.5, 4.4, 4.4]),
    (1, [1.9, 1.9, 2.5, 2.4, 2.1, 1.9, 3.0, 3.3, 3.2, 3.5, 3.6, 3.4]),
    (1, [3.2, 3.1, 2.3, 2.7, 2.1, 1.7, 3.9, 4.2, 4.2, 4.3, 4.2, 4.2]),
    (1, [G, 1.5, G, G, G, G, G, 2.1, 2.4, 2.7, 2.0, 2.2]),
    (1, [G, 2.3, G, G, G, G, G, 2.7, 2.5, 2.8, 2.8, 2.7]),
    (1, [G, 2.1, G, G, G, 2.1, 2.7, 2.7, 2.7, 2.7, 2.6, 2.7]),
    (1, [G, 1.9, G, G, G, G, 2.4, 2.4, G, 2.7, 2.7, 2.7]),
    (1, [G, G, G, 1.3, G, G, 2.2, 2.0, 2.0, 2.2, 2.1, G]),
    (1, [G, G, 1.5, G, G, G, 2.2, 2.9, 2.9, 2.7, 3.2, G]),
    (1, [G, G, 2.3, G, G, G, 3.0, 3.0, G, 3.3, 3.2, 3.1]),
    (1, [G, G, 2.4, G, G, G, 3.4, 3.2, 3.6, 3.9, 3.5, 3.5]),
    (1, [G, G, G, G, 2.3, G, 2.1, 2.8, 2.6, 2.6, 2.7, 2.2]),
    (1, [G, G, 1.5, G, 1.6, G, 2.1, 2.0, 2.4, 2.6, 3.1, 3.0]),
    (1, [2.2, G, G, G, G, G, 2.1, 2.3, 2.4, 2.4, 2.2, 2.2]),
    (1, [2.5, G, G, G, G, G, 2.4, 2.8, 2.7, 2.9, 2.8, 2.8]),
    (1, [G, G, G, 1.2, G, G, 2.2, 2.3, 2.4, 2.1, 2.0, 2.0]),
    (1, [G, G, G, G, G, G, 3.0, 3.4, 3.5, 4.1, 3.2, 4.1]),
    (1, [G, G, G, G, G, G, 1.9, 2.0, 1.7, 1.9, 2.2, 2.0]),
    (1, [G, G, G, G, G, G, 2.6, 2.6, 2.7, 2.3, 2.6, 2.6]),
    (1, [G, 1.7, 2.3, 2.0, G, G, 2.7, 2.7, 2.7, 2.9, 2.9, 2.8]),
    (1, [G, G, 1.1, 1.9, 2.1, G, 2.6, 3.3, 3.0, 3.0, 3.2, 2.9]),
    (1, [G, 2.0, 2.7, 1.8, 2.0, G, 3.6, 3.1, 3.0, 3.5, 3.2, 3.2]),
    (1, [G, G, G, 2.0, G, 1.7, 3.0, G, 2.8, 2.6, 2.7, 2.5]),
    (1, [G, G, G, G, 2.1, G, 2.8, G, 2.1, 2.0, 2.9, 2.6]),
    (1, [G, 1.2, G, G, 2.3, 1.1, 3.0, G, 3.0, 3.0, 2.9, 3.4]),
]

# clustering trees: (merge height, left, right) or (top height, group size); 1.0 is the root
a_tree = (1.0,
          (0.64, (0.06, 6),
           (0.45,
            (0.31, (0.15, 86), (0.22, (0.12, 28), (0.15, 187))),
            (0.33, (0.12, 120), (0.14, 140)))),
          (0.67, (0.13, 38), (0.55, (0.22, 40), (0.3, 54))))
b_tree = (1.0,
          (0.63, (0.25, 27), (0.4, (0.3, 50), (0.3, 46))),
          (0.78,
           (0.65, (0.4, 76), (0.55, (0.3, 60), (0.35, 40))),
           (0.72,
            (0.58, (0.3, 95), (0.3, 60)),
            (0.65, (0.35, 88), (0.5, (0.28, 84), (0.28, 74))))))
c_tree = (1.0,
          (0.38, (0.08, 8), (0.22, 141)),
          (0.73, (0.28, 18),
           (0.68,
            (0.54, (0.25, 59), (0.46, (0.3, 123), (0.4, (0.2, 113), (0.3, 231)))),
            (0.28, 12))))
d_tree = (1.0, (0, 1),
          (0.88,
           (0.58,
            (0.29, (0, 1), (0.08, 2)),
            (0.49, (0, 1), (0.40, (0, 1), (0.19, (0, 1), (0.08, 2))))),
           (0.72,
            (0.62,
             (0.43, (0.04, 2), (0.42, 2)),
             (0.59,
              (0.45, (0.39, 2), (0.35, 2)),
              (0.52,
               (0.28, 2),
               (0.40, (0.05, 2), (0.28, (0, 1), (0.12, (0, 1), (0.04, 2))))))),
            (0.65,
             (0.40, (0, 1), (0.28, 2)),
             (0.48, (0, 1), (0.36, 2))))))

W, H = 1288, 1583
# letter, rows, tree, heatmap box, dendrogram root, colour bar box, letter position
panels = [
    ("A", a_strips, a_tree, (60, 43, 430, 742), 5, (444, 43, 473, 478), (0, 24)),
    ("B", b_strips, b_tree, (836, 41, 1199, 741), 781, (1217, 35, 1246, 459), (773, 24)),
    ("C", c_strips, c_tree, (58, 858, 428, 1563), 2, (445, 858, 474, 1287), (1, 838)),
    ("D", d_strips, d_tree, (832, 851, 1200, 1542), 777, (1215, 849, 1244, 1277), (775, 838)),
]

cmap = LinearSegmentedColormap.from_list("green_black_red", [
    (0.0, "#66bf4a"), (1 / 10.9, "#45b549"), (2 / 10.9, "#1fa845"), (3 / 10.9, "#127a33"),
    (4 / 10.9, "#0b4d20"), (5 / 10.9, "#04240f"), (6 / 10.9, "#000000"), (7 / 10.9, "#3c0007"),
    (8 / 10.9, "#720a10"), (9 / 10.9, "#a81a1e"), (10 / 10.9, "#e82228"), (1.0, "#f5332f"),
], N=256)
VMIN, VMAX = -6, 4.9


def px_axes(fig, left, top, right, bottom):
    return fig.add_axes([left / W, 1 - bottom / H, (right - left) / W, (bottom - top) / H])


# merge neighbouring rows, closest pairs first, to grow the fine part of a tree
def grow_group(rows, first, top, segs):
    nodes = [(first + i + 0.5, 0.0, rows[i].copy(), 1) for i in range(len(rows))]
    if len(nodes) == 1:
        return nodes[0][0], 0.0
    dists = [np.abs(nodes[i][2] - nodes[i + 1][2]).mean() for i in range(len(nodes) - 1)]
    dmax = max(max(dists), 1e-6)
    step = 0.15 * top / len(nodes) ** 0.5
    while len(nodes) > 1:
        d = [np.abs(nodes[i][2] - nodes[i + 1][2]).mean() for i in range(len(nodes) - 1)]
        i = int(np.argmin(d))
        a, b = nodes[i], nodes[i + 1]
        h = max(top * (d[i] / dmax) ** 1.5, a[1] + step, b[1] + step)
        h = min(h, top)
        segs += [[(a[1], a[0]), (h, a[0])], [(b[1], b[0]), (h, b[0])], [(h, a[0]), (h, b[0])]]
        nn = a[3] + b[3]
        nodes[i:i + 2] = [((a[0] + b[0]) / 2, h, (a[2] * a[3] + b[2] * b[3]) / nn, nn)]
    return nodes[0][0], nodes[0][1]


def tree_total(node):
    return node[1] if len(node) == 2 else tree_total(node[1]) + tree_total(node[2])


def walk(node, matrix, done, scale, segs):
    if len(node) == 2:
        start = int(round(done[0] * scale))
        done[0] += node[1]
        stop = max(int(round(done[0] * scale)), start + 1)
        return grow_group(matrix[start:stop], start, node[0], segs)
    ya, ha = walk(node[1], matrix, done, scale, segs)
    yb, hb = walk(node[2], matrix, done, scale, segs)
    h = node[0]
    segs += [[(ha, ya), (h, ya)], [(hb, yb), (h, yb)], [(h, ya), (h, yb)]]
    return (ya + yb) / 2, h


fig = plt.figure(figsize=(W / 100, H / 100), dpi=100)
bar_values = np.linspace(VMAX, VMIN, 110).reshape(-1, 1)

for letter, strips, tree, box, root, bar, letter_at in panels:
    counts = [s[0] for s in strips]
    matrix = np.repeat(np.array([s[1] for s in strips]), counts, axis=0)

    ax = px_axes(fig, *box)
    ax.imshow(matrix, cmap=cmap, vmin=VMIN, vmax=VMAX, aspect="auto", interpolation="nearest")
    ax.set_xticks(range(len(columns)))
    ax.set_xticklabels(columns, family="Liberation Serif", fontsize=11, color="#111111")
    ax.set_yticks([])
    ax.tick_params(axis="x", length=0, pad=5.5)
    for s in ax.spines.values():
        s.set_visible(False)

    den = px_axes(fig, root, box[1], box[0], box[3])
    segs = []
    walk(tree, matrix, [0], len(matrix) / tree_total(tree), segs)
    den.add_collection(LineCollection(segs, colors="#4d4d4d", linewidths=0.8))
    den.set_xlim(1.0, 0)
    den.set_ylim(len(matrix), 0)
    den.axis("off")

    cax = px_axes(fig, *bar)
    cax.imshow(bar_values, cmap=cmap, vmin=VMIN, vmax=VMAX, aspect="auto",
               extent=(0, 1, VMIN, VMAX), interpolation="nearest")
    cax.set_xticks([])
    cax.yaxis.tick_right()
    cax.set_yticks(bar_ticks)
    cax.set_yticklabels([str(t).replace("-", "\u2212") for t in bar_ticks],
                        family="Liberation Sans", fontsize=16, color="#222222")
    cax.tick_params(axis="y", length=0, pad=8)
    for s in cax.spines.values():
        s.set_visible(False)

    fig.text(letter_at[0] / W, 1 - letter_at[1] / H, letter, family="Liberation Sans",
             fontweight="bold", fontsize=19, color="black", ha="left", va="baseline")

fig.savefig("out.png", dpi=100)
